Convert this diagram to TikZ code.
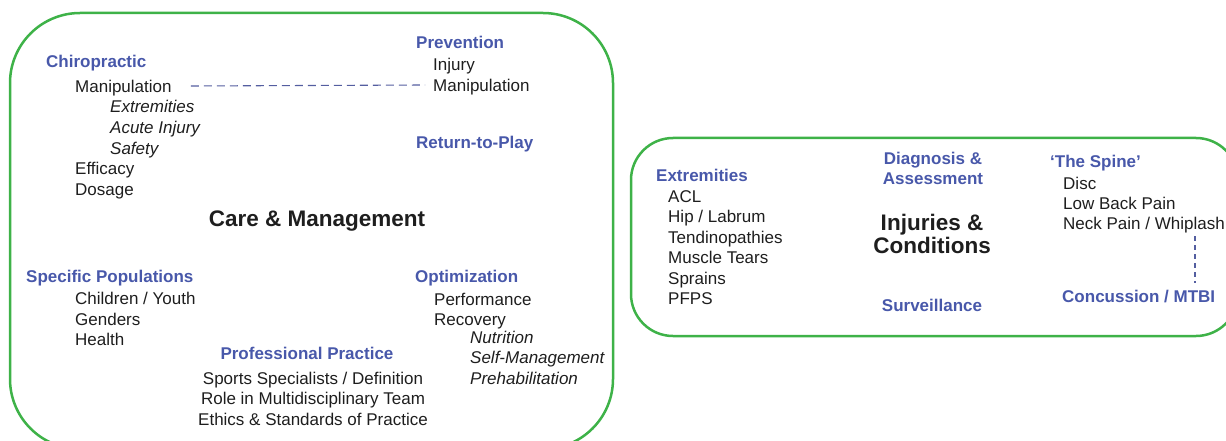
\documentclass[tikz,border=0pt]{standalone}
\usepackage{fontspec}
\setmainfont{Liberation Sans}
\definecolor{boxgreen}{RGB}{62,178,72}
\definecolor{headblue}{RGB}{72,88,170}
\definecolor{linkblue}{RGB}{84,94,160}
\definecolor{inkgrey}{RGB}{30,30,30}
\begin{document}
\begin{tikzpicture}[x=1pt,y=-1pt,
    item/.style={anchor=west,inner sep=0pt,text height=12.2pt,text depth=0pt,text=inkgrey,
                 font=\fontsize{17}{20.5}\selectfont},
    sub/.style={item,font=\fontsize{17}{20.5}\selectfont\itshape},
    head/.style={item,text=headblue,font=\fontsize{17}{20}\selectfont\bfseries},
    title/.style={inner sep=0pt,align=center,text=inkgrey,font=\fontsize{22.5}{23}\selectfont\bfseries},
    area/.style={draw=boxgreen,line width=2.5pt,rounded corners=70pt},
    link/.style={draw=linkblue,line width=1.1pt,dash pattern=on 8pt off 5pt}]
      \clip (0,0) rectangle (1226,441);
      \draw[area] (10,13) rectangle (613,449);
      \draw[area,rounded corners=42pt] (631,138) rectangle (1238,336);
      % care & management
      \draw (317,221) node[title] (care) {Care \& Management};
      \draw (46,61) node[head] (chiro) {Chiropractic}
            (75,86) node[item] (manip) {Manipulation}
            (110,106) node[sub] (extr) {Extremities}
            (110,127) node[sub] (acute) {Acute Injury}
            (110,148) node[sub] (safety) {Safety}
            (75,168) node[item] (effic) {Efficacy}
            (75,189) node[item] (dose) {Dosage};
      \draw (416,42) node[head] (prev) {Prevention}
            (433,64) node[item] (injury) {Injury}
            (433,85) node[item] (pmanip) {Manipulation}
            (416,142) node[head] (rtp) {Return-to-Play};
      \draw (26,276) node[head] (spec) {Specific Populations}
            (75,298) node[item] (child) {Children / Youth}
            (75,319) node[item] (gend) {Genders}
            (75,339) node[item] (health) {Health};
      \draw (415,276) node[head] (optim) {Optimization}
            (434,299) node[item] (perf) {Performance}
            (434,319) node[item] (recov) {Recovery}
            (470,337) node[sub] (nutr) {Nutrition}
            (470,357) node[sub] (selfm) {Self-Management}
            (470,378) node[sub] (prehab) {Prehabilitation};
      \draw (307,353) node[head,anchor=center] (prof) {Professional Practice}
            (313,378) node[item,anchor=center] (sports) {Sports Specialists / Definition}
            (313,398) node[item,anchor=center] (role) {Role in Multidisciplinary Team}
            (313,419) node[item,anchor=center] (ethics) {Ethics \& Standards of Practice};
      \draw[link] ([xshift=19pt]manip.east) -- ([xshift=-8pt]pmanip.west);
      % injuries & conditions
      \draw (932,234) node[title] (injcond) {Injuries \&\\Conditions};
      \draw (933,168) node[title,text=headblue,font=\fontsize{17}{20}\selectfont\bfseries] (diag) {Diagnosis \&\\Assessment}
            (932,305) node[head,anchor=center] (surv) {Surveillance};
      \draw (656,175) node[head] (extrem) {Extremities}
            (668,196) node[item] (acl) {ACL}
            (668,216) node[item] (hip) {Hip / Labrum}
            (668,237) node[item] (tend) {Tendinopathies}
            (668,257) node[item] (muscle) {Muscle Tears}
            (668,278) node[item] (sprain) {Sprains}
            (668,298) node[item] (pfps) {PFPS};
      \draw (1050,161) node[head] (spine) {‘The Spine’}
            (1063,183) node[item] (disc) {Disc}
            (1063,203) node[item] (lbp) {Low Back Pain}
            (1063,223) node[item] (neck) {Neck Pain / Whiplash}
            (1062,296) node[head] (conc) {Concussion / MTBI};
      \coordinate (necklink) at ([xshift=-30pt,yshift=-7pt]neck.south east);
      \draw[link,dash pattern=on 5pt off 4pt] (necklink) -- ([yshift=7pt]necklink |- conc.north);
\end{tikzpicture}
\end{document}
